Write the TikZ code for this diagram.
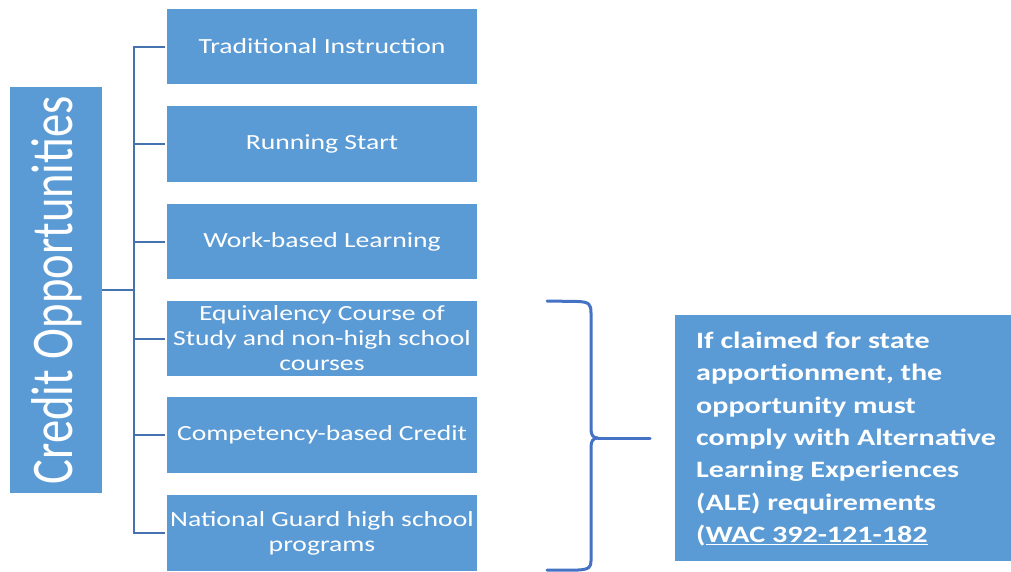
\documentclass[tikz,border=0pt]{standalone}
\usepackage{fontspec}
\newfontfamily\boxfont{Carlito}[FakeStretch=1.28]
\newfontfamily\titlefont{Carlito}[FakeStretch=0.79]
\definecolor{boxblue}{HTML}{5B9BD5}
\definecolor{linkblue}{RGB}{70,115,175}
\definecolor{braceblue}{HTML}{4472C4}
\begin{document}
\begin{tikzpicture}[x=1pt,y=-1pt,
  optbox/.style={fill=boxblue, draw=none, minimum width=310pt, minimum height=75.5pt,
    inner sep=0pt, text=white, align=center, font=\boxfont\fontsize{21.6}{25}\selectfont},
  link/.style={draw=linkblue, line width=2pt},
  bracepath/.style={draw=braceblue, line width=3pt, line cap=round, line join=round}]
\useasboundingbox (0,0) rectangle (1011,571);
% left title box
\node[fill=boxblue, minimum width=92pt, minimum height=406pt, inner sep=0pt] (L) at (56,290) {};
\node[rotate=90, text=white, inner sep=0pt, font=\titlefont\fontsize{59}{70}\selectfont] (Ltext) at (57,290) {Credit Opportunities};
% option boxes
\node[optbox] (b1) at (322,46.5) {Traditional Instruction};
\node[optbox] (b2) at (322,144) {Running Start};
\node[optbox] (b3) at (322,241.5) {Work-based Learning};
\node[optbox] (b4) at (322,338.5) {Equivalency Course of\\Study and non-high school\\courses};
\node[optbox] (b5) at (322,435) {Competency-based Credit};
\node[optbox, minimum height=76pt] (b6) at (322,533) {National Guard high school\\programs};
% connectors
\coordinate (hub) at (134,290);
\draw[link] (L.east) -- (hub);
\foreach \b in {b1,b2,b3,b4,b5,b6}{
  \draw[link, shorten >=2pt] (hub) |- (\b.west);
}
% right box
\node[fill=boxblue, minimum width=336pt, minimum height=246pt, inner sep=0pt] (R) at (843,438) {};
\node[anchor=west, inner sep=0pt, text=white, align=left,
  font=\boxfont\bfseries\fontsize{23.5}{32.3}\selectfont] (Rtext) at (696,439)
  {If claimed for state\\apportionment, the\\opportunity must\\comply with Alternative\\Learning Experiences\\(ALE) requirements\\(\underline{WAC 392-121-182}};
% brace
\coordinate (btop) at (547,301);
\coordinate (bbot) at (547,570);
\coordinate (bcusp) at (598,438);
\coordinate (btip) at (650,438);
\draw[bracepath] (btop) -- (578,301.5) .. controls (589,302) and (591,304) .. (591,313)
  -- (591,429) .. controls (591,435) and (593,438) .. (bcusp)
  .. controls (593,438) and (591,441) .. (591,447)
  -- (591,561) .. controls (591,567) and (589,569.5) .. (578,570) -- (bbot);
\draw[bracepath] (bcusp) -- (btip);
\end{tikzpicture}
\end{document}
